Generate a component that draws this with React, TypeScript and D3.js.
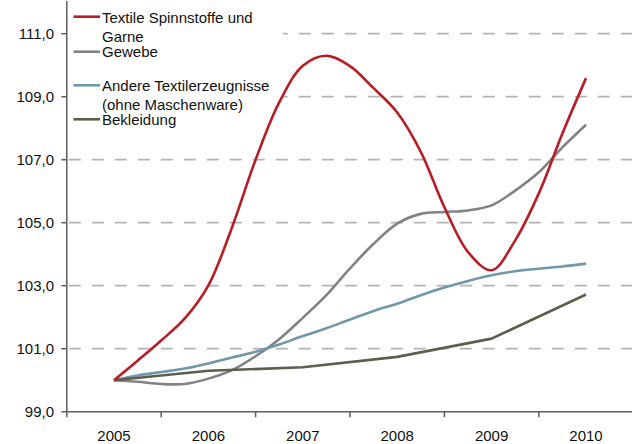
import React from "react";
import * as d3 from "d3";

const quarters = [
  2005, 2005.25, 2005.5, 2005.75,
  2006, 2006.25, 2006.5, 2006.75,
  2007, 2007.25, 2007.5, 2007.75,
  2008, 2008.25, 2008.5, 2008.75,
  2009, 2009.25, 2009.5, 2009.75,
  2010,
];
const years = [2005, 2006, 2007, 2008, 2009, 2010];
const yTicks = [99, 101, 103, 105, 107, 109, 111];

const textile = [100.0, 100.62, 101.26, 101.96, 103.01, 104.85, 107.0, 108.82, 109.98, 110.3, 109.97, 109.27, 108.5, 107.25, 105.49, 104.07, 103.49, 104.44, 105.93, 107.83, 109.59];
const gewebe = [100.0, 99.95, 99.88, 99.88, 100.05, 100.32, 100.76, 101.3, 101.98, 102.7, 103.55, 104.33, 104.97, 105.28, 105.34, 105.39, 105.55, 106.02, 106.6, 107.39, 108.11];
const andere = [100.0, 100.15, 100.26, 100.37, 100.53, 100.72, 100.9, 101.13, 101.4, 101.65, 101.93, 102.2, 102.43, 102.7, 102.94, 103.15, 103.33, 103.46, 103.54, 103.61, 103.7];
const bekleidung = [100.0, 100.3, 100.41, 100.74, 101.32, 102.72];

const legendLabels = [
  ["Textile Spinnstoffe und", "Garne"],
  ["Gewebe"],
  ["Andere Textilerzeugnisse", "(ohne Maschenware)"],
  ["Bekleidung"],
];
const colors = ["#B81C24", "#818186", "#7197AA", "#5C5F4B"];

const W = 632;
const H = 444;
const FONT = "'Liberation Sans', Arial, sans-serif";

export default function App() {
  const x = d3.scaleLinear().domain([2005, 2010]).range([114, 586]);
  const y = d3.scaleLinear().domain([99, 111]).range([411.7, 33.7]);
  const left = x(2004.5);
  const right = x(2010.5);
  const bottom = y(99);

  const smooth = d3
    .line<[number, number]>()
    .x((d) => x(d[0]))
    .y((d) => y(d[1]))
    .curve(d3.curveCatmullRom.alpha(0.5));
  const straight = d3
    .line<[number, number]>()
    .x((d) => x(d[0]))
    .y((d) => y(d[1]));

  const series = [
    { path: smooth(quarters.map((q, i) => [q, textile[i]] as [number, number])), color: colors[0] },
    { path: smooth(quarters.map((q, i) => [q, gewebe[i]] as [number, number])), color: colors[1] },
    { path: smooth(quarters.map((q, i) => [q, andere[i]] as [number, number])), color: colors[2] },
    { path: straight(years.map((q, i) => [q, bekleidung[i]] as [number, number])), color: colors[3] },
  ];
  const drawOrder = [1, 2, 3, 0];

  const xBounds = d3.range(years.length + 1).map((i) => x(2004.5 + i));

  const legendRows = [
    { lineY: 16.7, baselines: [22.5, 42] },
    { lineY: 51.7, baselines: [57.3] },
    { lineY: 85.3, baselines: [91, 109.5] },
    { lineY: 119.3, baselines: [124.6] },
  ];

  return (
    <svg
      width={W}
      height={H}
      style={{ position: "absolute", left: 0, top: 0, background: "#fff" }}
      fontFamily={FONT}
    >
      {/* grid */}
      {yTicks.slice(1).map((t) => (
        <line
          key={"g" + t}
          x1={left}
          x2={right}
          y1={y(t)}
          y2={y(t)}
          stroke="#B3B3B3"
          strokeWidth={1.8}
          strokeDasharray="12 11"
          strokeDashoffset={-2}
        />
      ))}
      {/* legend background */}
      <rect x={left + 1.5} y={0} width={283 - left - 1.5} height={131} fill="#fff" />
      {/* legend */}
      {legendLabels.map((lines, i) => (
        <g key={"l" + i}>
          <line
            x1={73.5}
            x2={100}
            y1={legendRows[i].lineY}
            y2={legendRows[i].lineY}
            stroke={colors[i]}
            strokeWidth={2.6}
          />
          {lines.map((s, j) => (
            <text key={j} x={102} y={legendRows[i].baselines[j]} fontSize={15} fill="#111">
              {s}
            </text>
          ))}
        </g>
      ))}
      {/* axes */}
      <line x1={left} x2={left} y1={1} y2={bottom} stroke="#5E5E5E" strokeWidth={1.5} />
      <line x1={left} x2={right} y1={bottom} y2={bottom} stroke="#5E5E5E" strokeWidth={1.5} />
      {yTicks.map((t) => (
        <g key={"y" + t}>
          <line x1={left - 5.5} x2={left} y1={y(t)} y2={y(t)} stroke="#5E5E5E" strokeWidth={1.5} />
          <text x={54} y={y(t) + 5.3} fontSize={15} textAnchor="end" fill="#111">
            {d3.format(".1f")(t).replace(".", ",")}
          </text>
        </g>
      ))}
      {xBounds.map((bx, i) => (
        <line key={"xt" + i} x1={bx} x2={bx} y1={bottom} y2={bottom + 5.5} stroke="#5E5E5E" strokeWidth={1.5} />
      ))}
      {years.map((yr) => (
        <text key={"x" + yr} x={x(yr)} y={440.5} fontSize={15} textAnchor="middle" fill="#111">
          {yr}
        </text>
      ))}
      {/* series */}
      {drawOrder.map((i) => (
        <path
          key={"s" + i}
          d={series[i].path || ""}
          fill="none"
          stroke={series[i].color}
          strokeWidth={2.6}
          strokeLinejoin="round"
          strokeLinecap="butt"
        />
      ))}
    </svg>
  );
}
